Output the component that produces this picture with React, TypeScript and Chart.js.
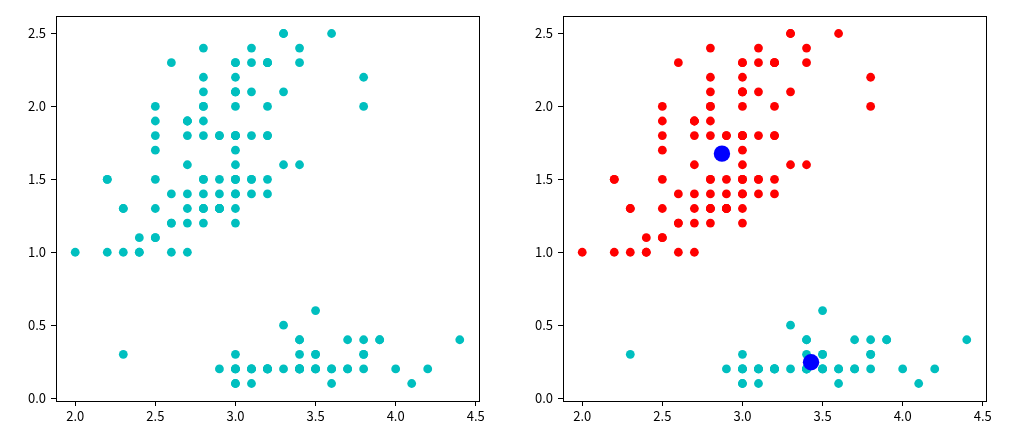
import React, { useEffect, useRef } from "react";
import { Chart, registerables } from "chart.js";

Chart.register(...registerables);

// Cluster A (cyan): sepal width, petal width
const clusterCyanSW = [3.5,3.0,3.2,3.1,3.6,3.9,3.4,3.4,2.9,3.1,3.7,3.4,3.0,3.0,4.0,4.4,3.9,3.5,3.8,3.8,3.4,3.7,3.6,3.3,3.4,3.0,3.4,3.5,3.4,3.2,3.1,3.4,4.1,4.2,3.1,3.2,3.5,3.6,3.0,3.4,3.5,2.3,3.2,3.5,3.8,3.0,3.8,3.2,3.7,3.3];
const clusterCyanPW = [0.2,0.2,0.2,0.2,0.2,0.4,0.3,0.2,0.2,0.1,0.2,0.2,0.1,0.1,0.2,0.4,0.4,0.3,0.3,0.3,0.2,0.4,0.2,0.5,0.2,0.2,0.4,0.2,0.2,0.2,0.2,0.4,0.1,0.2,0.2,0.2,0.2,0.1,0.2,0.2,0.3,0.3,0.2,0.6,0.4,0.3,0.2,0.2,0.2,0.2];

// Cluster B (red): sepal width, petal width
const clusterRedSW = [3.2,3.2,3.1,2.3,2.8,2.8,3.3,2.4,2.9,2.7,2.0,3.0,2.2,2.9,2.9,3.1,3.0,2.7,2.2,2.5,3.2,2.8,2.5,2.8,2.9,3.0,2.8,3.0,2.9,2.6,2.4,2.4,2.7,2.7,3.0,3.4,3.1,2.3,3.0,2.5,2.6,3.0,2.6,2.3,2.7,3.0,2.9,2.9,2.5,2.8,
  3.3,2.7,3.0,2.9,3.0,3.0,2.5,2.9,2.5,3.6,3.2,2.7,3.0,2.5,2.8,3.2,3.0,3.8,2.6,2.2,3.2,2.8,2.8,2.7,3.3,3.2,2.8,3.0,2.8,3.0,2.8,3.8,2.8,2.8,2.6,3.0,3.4,3.1,3.0,3.1,3.1,3.1,2.7,3.2,3.3,3.0,2.5,3.0,3.4,3.0];
const clusterRedPW = [1.4,1.5,1.5,1.3,1.5,1.3,1.6,1.0,1.3,1.4,1.0,1.5,1.0,1.4,1.3,1.4,1.5,1.0,1.5,1.1,1.8,1.3,1.5,1.2,1.3,1.4,1.4,1.7,1.5,1.0,1.1,1.0,1.2,1.6,1.5,1.6,1.5,1.3,1.3,1.3,1.2,1.4,1.2,1.0,1.3,1.2,1.3,1.3,1.1,1.3,
  2.5,1.9,2.1,1.8,2.2,2.1,1.7,1.8,1.8,2.5,2.0,1.9,2.1,2.0,2.4,2.3,1.8,2.2,2.3,1.5,2.3,2.0,2.0,1.8,2.1,1.8,1.8,1.8,2.1,1.6,1.9,2.0,2.2,1.5,1.4,2.3,2.4,1.8,1.8,2.1,2.4,2.3,1.9,2.3,2.5,2.3,1.9,2.0,2.3,1.8];

// Centroids
const centroidSW = [2.872, 3.428];
const centroidPW = [1.676, 0.246];

const xTicks = [2.0, 2.5, 3.0, 3.5, 4.0, 4.5];
const yTicks = [0.0, 0.5, 1.0, 1.5, 2.0, 2.5];
const xRange = [1.88, 4.52];
const yRange = [-0.02, 2.62];

const CYAN = "#00bfbf";
const RED = "#ff0000";
const BLUE = "#0000ff";
const FONT = "'Noto Sans CJK SC', 'DejaVu Sans', sans-serif";

const toPts = (xs: number[], ys: number[]) => xs.map((x, i) => ({ x, y: ys[i] }));

const framePlugin = {
  id: "frame",
  afterDraw(chart: any) {
    const { ctx, chartArea } = chart;
    ctx.save();
    ctx.strokeStyle = "#000";
    ctx.lineWidth = 1;
    ctx.strokeRect(
      Math.round(chartArea.left) + 0.5,
      Math.round(chartArea.top) + 0.5,
      Math.round(chartArea.right - chartArea.left),
      Math.round(chartArea.bottom - chartArea.top)
    );
    ctx.restore();
  },
};

function makeOptions(yAxisWidth: number, rightPad: number) {
  const tickFont = { family: FONT, size: 13 };
  return {
    responsive: false,
    animation: false as const,
    layout: { padding: { top: 16, right: rightPad, left: 0, bottom: 0 } },
    plugins: { legend: { display: false }, tooltip: { enabled: false } },
    scales: {
      x: {
        type: "linear" as const,
        min: xRange[0],
        max: xRange[1],
        afterBuildTicks: (s: any) => { s.ticks = xTicks.map((v) => ({ value: v })); },
        afterFit: (s: any) => { s.height = 24; },
        ticks: { color: "#000", font: tickFont, padding: 2, maxRotation: 0, callback: (v: any) => Number(v).toFixed(1) },
        grid: { display: true, drawOnChartArea: false, drawTicks: true, tickLength: 5, color: "#000" },
        border: { display: true, color: "#000" },
      },
      y: {
        type: "linear" as const,
        min: yRange[0],
        max: yRange[1],
        afterBuildTicks: (s: any) => { s.ticks = yTicks.map((v) => ({ value: v })); },
        afterFit: (s: any) => { s.width = yAxisWidth; },
        ticks: { color: "#000", font: tickFont, padding: 5, callback: (v: any) => Number(v).toFixed(1) },
        grid: { display: true, drawOnChartArea: false, drawTicks: true, tickLength: 5, color: "#000" },
        border: { display: true, color: "#000" },
      },
    },
  };
}

export default function App() {
  const leftRef = useRef<HTMLCanvasElement>(null);
  const rightRef = useRef<HTMLCanvasElement>(null);

  useEffect(() => {
    document.body.style.margin = "0";
    const left = new Chart(leftRef.current!, {
      type: "scatter",
      data: {
        datasets: [
          {
            data: [...toPts(clusterCyanSW, clusterCyanPW), ...toPts(clusterRedSW, clusterRedPW)],
            backgroundColor: CYAN,
            borderWidth: 0,
            pointRadius: 4.4,
          },
        ],
      },
      options: makeOptions(56, 31) as any,
      plugins: [framePlugin],
    });
    const right = new Chart(rightRef.current!, {
      type: "scatter",
      data: {
        datasets: [
          { data: toPts(centroidSW, centroidPW), backgroundColor: BLUE, borderWidth: 0, pointRadius: 8.2, order: 0 } as any,
          { data: toPts(clusterCyanSW, clusterCyanPW), backgroundColor: CYAN, borderWidth: 0, pointRadius: 4.4, order: 1 },
          { data: toPts(clusterRedSW, clusterRedPW), backgroundColor: RED, borderWidth: 0, pointRadius: 4.4, order: 2 },
        ],
      },
      options: makeOptions(53, 31) as any,
      plugins: [framePlugin],
    });
    return () => {
      left.destroy();
      right.destroy();
    };
  }, []);

  return (
    <div style={{ position: "fixed", left: 0, top: 0, width: 1027, height: 425, background: "#fff" }}>
      <canvas ref={leftRef} width={510} height={425} style={{ position: "absolute", left: 0, top: 0 }} />
      <canvas ref={rightRef} width={507} height={425} style={{ position: "absolute", left: 510, top: 0 }} />
    </div>
  );
}
